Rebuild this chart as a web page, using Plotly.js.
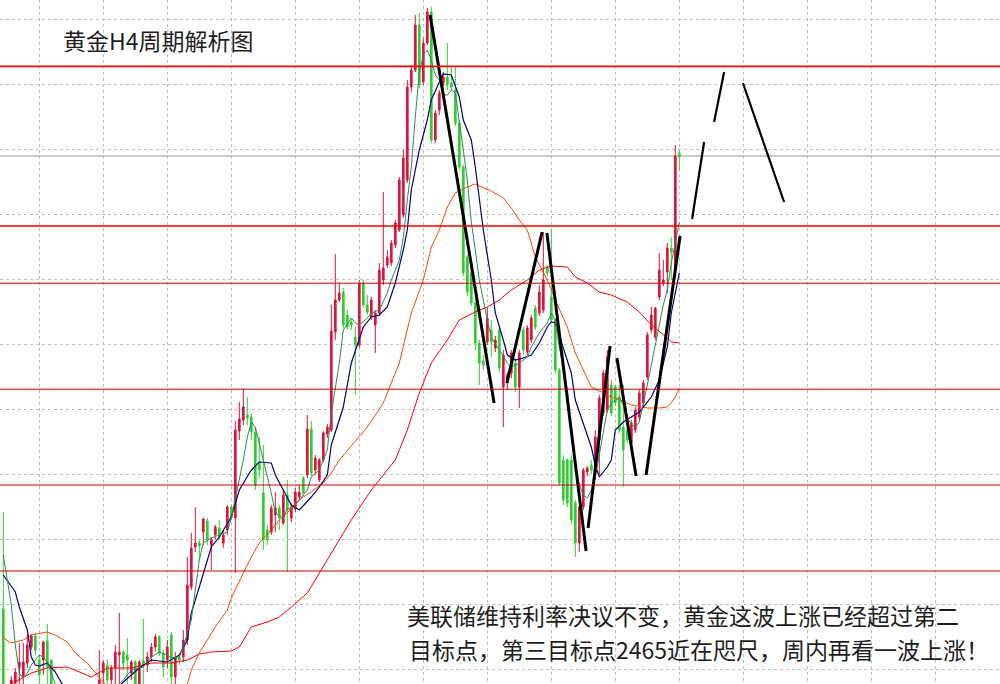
<!DOCTYPE html>
<html>
<head>
<meta charset="utf-8">
<script src="https://cdn.plot.ly/plotly-3.0.1.min.js"></script>
<style>html,body{margin:0;padding:0;background:#fff;}#chart{width:1000px;height:684px;}</style>
</head>
<body>
<div id="chart"></div>
<script>
// ---- candle data (H4 bars, prices) ----
const open = [
2338.75,2316,2319,2320.25,2324,2321.75,2325.25,2329.25,2332,2326,
2326,2330.75,2326,2318.5,2314,2311,2313,2308.5,2306,2309.5,
2312,2310,2315.25,2316,2317.25,2322.75,2324.75,2321,2324,2327.25,
2328,2327.25,2322.75,2325.5,2318.5,2326,2324.75,2326.75,2329.25,2331.75,
2327.75,2326,2332.25,2321.75,2326.75,2326.75,2331,2344.25,2354.25,2355.25,
2358,2360.75,2354.75,2357.25,2359,2355.25,2358.5,2364.25,2361.5,2383.25,
2386,2387.25,2386.75,2383,2375.5,2367.75,2358.5,2358,2362.25,2364,
2360.25,2367.25,2361.5,2363.75,2366.75,2371.5,2372.25,2383.75,2373.5,2371,
2376,2382.5,2383.5,2408,2416,2418,2412.25,2410.5,2406.75,2404.75,
2420.25,2414.75,2411.75,2409.75,2412.75,2421,2424.75,2425.25,2429.75,2433.5,
2437.25,2446,2469.25,2473.5,2484.75,2470.5,2480.25,2488,2456,2463.5,
2470.25,2471.75,2470.25,2468.5,2460.25,2449.25,2426.75,2422.75,2415.25,2405.25,
2400.75,2405.5,2408.5,2404,2408.5,2394.25,2395.25,2397.75,2400.25,2394.25,
2408.5,2403,2406,2414,2412.75,2413.5,2424.25,2416.75,2411,2398.5,
2376,2376,2376,2365.25,2355.25,2364.25,2373,2374.75,2373.5,2381,
2387.75,2388.5,2394.75,2394.25,2391.75,2384.25,2383.5,2380.25,2383.5,2386.75,
2390.25,2396.75,2408.5,2406.75,2416.75,2420.25,2423,2429,2423.5,2452.75];
const high = [
2363,2319.5,2322,2324,2330.25,2330.25,2332.5,2332.5,2332.75,2327.25,
2330.75,2335,2326,2319.5,2314.75,2314,2314.5,2309.75,2310.5,2313,
2313.5,2316,2317.5,2319,2328.5,2326,2326,2324.75,2329.75,2337.75,
2328.5,2331.5,2326,2326,2326,2336.25,2328,2330.25,2332.5,2332.25,
2328.5,2331,2333,2328,2327.25,2333.5,2351.75,2357.75,2364.25,2356,
2361.5,2361.5,2356.75,2359.75,2361,2358.5,2364.75,2364.75,2385.75,2390.5,
2393.75,2391.75,2387.75,2384,2381.75,2379.75,2359.75,2364.75,2368,2364.75,
2368.5,2371,2365.25,2369,2369.75,2372,2387.25,2385.75,2377.25,2376.5,
2383.25,2385,2414.75,2427.5,2420.25,2419,2413.5,2411.5,2409.25,2421,
2421,2417.25,2416.75,2413.5,2425.25,2443,2428.5,2431,2436,2446.75,
2453.5,2471,2474.75,2487.25,2487.75,2481.5,2489,2489.25,2463.5,2468.5,
2473,2480.25,2474.25,2474.25,2461,2449.75,2427.25,2423.5,2416,2406,
2402.25,2414,2411,2407,2409.25,2403.5,2398,2403.5,2401.5,2403.5,
2409.25,2409.75,2412.25,2414.75,2419.75,2433,2424.75,2433.5,2411.5,2399,
2377.25,2376.5,2377.25,2366,2364.75,2374,2374.5,2376,2383.5,2392.25,
2398.5,2403.5,2396,2394.75,2394.75,2394.75,2384,2386,2389.25,2393.5,
2396,2408,2414.25,2414.25,2427.75,2426,2430.25,2431.75,2454.75,2453.5];
const low = [
2316,2314.75,2317.25,2319,2318.5,2320,2324,2328.5,2327.25,2320,
2322.25,2320,2316,2313,2309.75,2309,2307.25,2304.75,2304,2308,
2308.5,2309,2313,2314.5,2316,2320,2318.5,2318.5,2320,2320,
2323.5,2320,2321,2317.25,2317.25,2318.5,2323,2325.5,2328,2327,
2321.75,2324,2320,2320,2324.75,2325.5,2329.75,2343.5,2353,2351,
2354.75,2354.75,2348.5,2356,2356,2354,2357.25,2361,2347.75,2381,
2384.75,2384.75,2381,2368.5,2371.5,2353.5,2354.75,2357.25,2358,2358.5,
2359.75,2348,2360.5,2363,2366,2367,2371.5,2372,2372.25,2370.5,
2375.5,2381.5,2383,2406,2415.5,2409,2408.5,2408.5,2392.25,2404,
2414,2412.25,2411,2402.75,2412,2419.75,2424,2424.5,2429,2433,
2436.5,2445.25,2468,2473,2469,2469.75,2479.75,2455.25,2455.25,2462.25,
2469.5,2468.5,2468.5,2459.5,2448.5,2422,2417,2414.5,2403.5,2394.75,
2398.5,2404.75,2401.75,2403,2398,2384.25,2393.5,2396.5,2393,2389,
2402.25,2402.25,2405.25,2408.5,2412,2412.75,2422,2410.25,2397.75,2369.5,
2364.75,2364.25,2360,2351.75,2353,2363.5,2372,2372.5,2371,2372.25,
2387,2387.75,2387,2389.5,2382.75,2369.25,2380.25,2379.5,2382.75,2386,
2389.5,2396,2407.75,2406,2416,2419.5,2417.75,2421,2423,2448.25];
const close = [
2317.25,2318.5,2321,2323,2325.5,2325.5,2329.75,2332,2328.5,2322.25,
2330.5,2324.25,2318.5,2314,2311,2313,2308.5,2306,2309.5,2312,
2310,2315.25,2316.5,2318,2321,2325.25,2321,2324,2328,2328,
2325.25,2326,2325.5,2318.5,2325.5,2324.75,2326.75,2329.25,2331.75,2327.75,
2324.25,2329.25,2321.75,2326.5,2326,2331,2344.75,2354,2355.25,2354.5,
2361.25,2356,2356,2359.25,2356.75,2357.25,2364.25,2361.5,2383.5,2386.25,
2389.25,2386.5,2383,2369.75,2373.5,2356,2356,2364,2364,2361.5,
2367.25,2363.5,2364.25,2368,2368,2367.75,2383.75,2372.75,2376.5,2376,
2382.75,2384.25,2408.25,2416,2417.75,2409.75,2409.25,2409.75,2404.75,2420.25,
2414.75,2413,2416,2412.75,2423.5,2424,2426.75,2430.25,2435.25,2446,
2451.5,2469.25,2473.5,2484.75,2469.75,2480.25,2488,2456,2462.75,2467.75,
2471.75,2469.75,2469.25,2460.25,2449.25,2422.75,2418,2415.25,2405.25,2400.25,
2399.75,2411.5,2405.5,2406,2399,2402.25,2397.25,2402.75,2394.25,2402.75,
2403.5,2409,2411.5,2409.25,2418,2421,2422.75,2411,2398.5,2370.25,
2366,2365.25,2361,2355.25,2364.25,2373.5,2374,2373.5,2381.75,2391.5,
2397.75,2401.75,2387.75,2390.25,2383.5,2378.5,2381,2385.25,2388.5,2392.75,
2395.25,2407.25,2412.25,2414,2423.5,2421,2429,2428,2452,2451.75];

// ---- moving averages (bar number, price) ----
const maFastX = [0,1,2,3,4,5,6,7,8,9, 10,11,12,13,15,18,21,24,28,30, 32,35,37,39,41,42,44,45,47,48,
 49,50,52,54,56,57,59,60,61,62, 63,64,65,67,68,70,71,72,74,76, 77,79,81,82,84,85,87,88,89,91,
 92,94,96,97,99,100,101,102,103,104, 105,106,107,108,109,110,111,112,113,114, 115,116,117,118,119,121,122,124,126,127,
 129,131,132,134,136,137,138,139,141,142, 143,144,145,146,147,148,149,150,151,152, 153,154,155,156,157,158,159,160,161,162,
 163,164,165,166,167,168,169];
const maFastY = [2352.25,2346.5,2339.75,2329.75,2322.75,2321.5,2322.75,2324.75,2326,2327.25,
 2326.75,2325.5,2322.75,2320,2316,2312.25,2314.75,2318,2319,2321,
 2323.5,2324.25,2326.75,2328,2327.25,2326.5,2326.75,2329.25,2336,2344.25,
 2351,2355.25,2356.5,2357.25,2358,2361.5,2371,2376,2381.75,2385.5,
 2384.25,2380.25,2376,2367.75,2362.75,2361.5,2364,2363.5,2366,2368.5,
 2371.75,2373.5,2378.5,2387.75,2400.25,2408.5,2411.5,2410.25,2409.75,2411.5,
 2412.75,2413.5,2417.75,2421,2426,2431.5,2441,2449.25,2461.75,2472.75,
 2477.25,2478.5,2476,2472.25,2471,2467.25,2467.25,2468.5,2467.75,2461,
 2453.5,2446,2435.5,2428.5,2421,2411,2406.75,2403.5,2400.25,2399.25,
 2400.25,2401.75,2404.25,2407.75,2410.25,2412.75,2411,2404.25,2393.5,2383.5,
 2374.75,2369.75,2367.25,2366.5,2368.5,2371.75,2377.25,2383.5,2388.5,2390.25,
 2391,2391.75,2389.75,2386.75,2384.75,2384.25,2385.5,2389.75,2394.75,2399.75,
 2404.75,2410.25,2414.75,2418.5,2425.25,2430.25,2435.5];

const maMidX = [0,3,4,6,7,8,9,11,13,15, 17,20,23,28,30,34,37,41,44,46, 47,49,51,52,54,57,59,62,64,67,
 68,71,72,74,77,79,81,82,85,87, 90,92,94,96,98,100,101,102,104,106, 107,109,110,112,113,114,115,117,118,119,
 120,122,123,125,126,128,130,132,134,136, 137,138,140,142,143,145,147,148,149,151, 152,153,155,157,159,162,164,166,167,169];
const maMidY = [2347.25,2343,2339.25,2333.5,2326.75,2324.75,2324.5,2325.25,2323,2319.5,
 2316,2313.5,2316,2318.5,2320.5,2324,2326,2325.5,2327.25,2331,
 2337.75,2344.25,2351,2354.25,2356.75,2361.75,2368.5,2373.5,2375.5,2375.25,
 2372.25,2366.75,2364.75,2363.5,2366.75,2369.25,2372.25,2379.75,2389.25,2400.25,
 2409.25,2411.75,2412.25,2414.25,2420.25,2428.5,2433.5,2443.5,2453.5,2461,
 2466,2470.5,2472.5,2472.25,2469.25,2466.75,2461,2456,2449.25,2441,
 2433.5,2421,2412.75,2406,2402.25,2401,2401.5,2402.25,2405.25,2409.25,
 2410.5,2410.25,2404.25,2397.75,2391,2385.25,2379.25,2374.75,2371.75,2374.25,
 2376,2383.5,2385.5,2386.75,2388,2391.75,2396,2404.25,2412.75,2422.75];

const maSlowX = [0,2,5,7,11,13,16,18,21,23, 25,28,32,36,40,44,46,47,49,51, 53,56,57,60,62,64,67,69,71,73,
 75,77,80,82,84,91,95,99,102,105, 107,109,111,113,116,118,120,122,125,127, 129,131,133,136,138,141,143,145,147,151,
 154,157,161,164,166,167,168,169];
const maSlowY = [2331.5,2330.25,2331,2332.25,2333,2332.25,2330.5,2327.75,2325.25,2322.75,
 2320.5,2317.25,2314.75,2314,2315.25,2318,2320,2323.5,2327.75,2331,
 2334.25,2338.5,2341.5,2347.75,2351.75,2355.25,2358.5,2361,2362.75,2365.25,
 2366.75,2368,2370.25,2372.75,2376,2384.25,2390.25,2400.25,2412.75,2421,
 2429.25,2433.5,2439.25,2442.75,2444.25,2445,2444,2443.25,2441.5,2439,
 2436,2433.5,2426.75,2421,2416,2409.25,2402.75,2398.5,2394.25,2392.25,
 2391,2389.75,2389,2389,2389.25,2390.25,2391.75,2394];

const maLongX = [0,2,7,11,16,19,22,26,32,37, 42,46,49,52,57,59,62,66,69,72, 76,79,82,87,92,96,98,101,104,107,
 111,114,118,121,124,127,131,134,137,141, 143,146,149,152,156,159,162,166,167,169];
const maLongY = [2318.5,2320,2322.75,2324,2324.25,2323,2321.75,2324,2324,2325.25,
 2325.25,2326,2327.5,2328,2328.25,2329.25,2334.25,2335.5,2336.75,2339.25,
 2342.75,2347.75,2352.75,2361,2368.5,2373.5,2376,2383.5,2392.75,2400.25,
 2406,2411,2413,2414.25,2416,2418.5,2421,2423.5,2424.5,2424.25,
 2421.75,2420.25,2418,2417.25,2415.5,2413,2409.75,2406.5,2405.5,2405.25];

// ---- hand-drawn trend lines (bar number, price), null separates segments ----
const trendX = [106.7,122.7,null,125.9,134.7,null,135.9,145.7,null,146.2,151.7,null,153.4,158.2,null,160.7,169.2];
const trendY = [2487.25,2390.25,null,2395.25,2433,null,2432.75,2353.25,null,2359,2404.5,null,2401.5,2372,null,2372.25,2432];
const projX = [172.2,175.2,null,177.7,180.2,null,184.9,195.2];
const projY = [2436.25,2455.5,null,2460.5,2473,null,2470.25,2440.5];

// ---- horizontal levels ----
const targetLevels = [2474.4, 2434.5];
const supportLevels = [2420.2, 2393.7, 2369.75, 2348.25];
const greyLevels = [2452];

// ---- texts ----
const titleText = '黄金H4周期解析图';
const noteLine1 = '美联储维持利率决议不变，黄金这波上涨已经超过第二';
const noteLine2 = '目标点，第三目标点2465近在咫尺，周内再看一波上涨！';

const bars = open.map((_, i) => i);

const traces = [
  {type:'candlestick', x:bars, open:open, high:high, low:low, close:close,
   increasing:{line:{color:'#dc143c', width:1}, fillcolor:'#dc143c'},
   decreasing:{line:{color:'#32cd32', width:1}, fillcolor:'#32cd32'},
   whiskerwidth:0, hoverinfo:'skip', showlegend:false},
  {type:'scatter', mode:'lines', x:maLongX, y:maLongY, line:{color:'#ff0000', width:1}, hoverinfo:'skip'},
  {type:'scatter', mode:'lines', x:maSlowX, y:maSlowY, line:{color:'#ff4500', width:1}, hoverinfo:'skip'},
  {type:'scatter', mode:'lines', x:maMidX, y:maMidY, line:{color:'#000080', width:1.2}, hoverinfo:'skip'},
  {type:'scatter', mode:'lines', x:maFastX, y:maFastY, line:{color:'#2e8b57', width:1}, hoverinfo:'skip'},
  {type:'scatter', mode:'lines', x:trendX, y:trendY, line:{color:'#000000', width:3}, connectgaps:false, hoverinfo:'skip'},
  {type:'scatter', mode:'lines', x:projX, y:projY, line:{color:'#000000', width:2.2}, connectgaps:false, hoverinfo:'skip'}
];

const shapes = [];
targetLevels.forEach(v => shapes.push({type:'line', xref:'paper', x0:0, x1:1, yref:'y', y0:v, y1:v, line:{color:'#ff0000', width:1.6}, layer:'above'}));
supportLevels.forEach(v => shapes.push({type:'line', xref:'paper', x0:0, x1:1, yref:'y', y0:v, y1:v, line:{color:'#c80000', width:1}, layer:'above'}));
greyLevels.forEach(v => shapes.push({type:'line', xref:'paper', x0:0, x1:1, yref:'y', y0:v, y1:v, line:{color:'#b8b8b8', width:1.5}, layer:'below'}));

const txtFont = {family:'"Noto Sans CJK SC", "Noto Sans", sans-serif', size:23, color:'#1e1e1e'};

const layout = {
  width:1000, height:684,
  margin:{l:0, r:0, t:0, b:0, pad:0},
  paper_bgcolor:'#ffffff', plot_bgcolor:'#ffffff',
  showlegend:false, hovermode:false, boxgap:0.4,
  xaxis:{range:[-0.825, 249.175], showticklabels:false, ticks:'', zeroline:false, showline:false,
         showgrid:true, gridcolor:'#c0c0c0', gridwidth:1, griddash:'3px,3px', tick0:9, dtick:16,
         rangeslider:{visible:false}, fixedrange:true},
  yaxis:{range:[2320, 2491], showticklabels:false, ticks:'', zeroline:false, showline:false,
         showgrid:true, gridcolor:'#c0c0c0', gridwidth:1, griddash:'3px,3px', tick0:2486.175, dtick:16.25,
         fixedrange:true},
  shapes:shapes,
  annotations:[
    {xref:'paper', yref:'paper', x:0.061, y:1-40/684, xanchor:'left', yanchor:'middle', text:titleText, showarrow:false, font:txtFont},
    {xref:'paper', yref:'paper', x:0.406, y:1-614.5/684, xanchor:'left', yanchor:'middle', borderpad:0,
     text:noteLine1, showarrow:false, font:txtFont},
    {xref:'paper', yref:'paper', x:0.408, y:1-648.5/684, xanchor:'left', yanchor:'middle', borderpad:0,
     text:noteLine2, showarrow:false, font:txtFont}
  ]
};

Plotly.newPlot('chart', traces, layout, {staticPlot:true, displayModeBar:false});
</script>
</body>
</html>
